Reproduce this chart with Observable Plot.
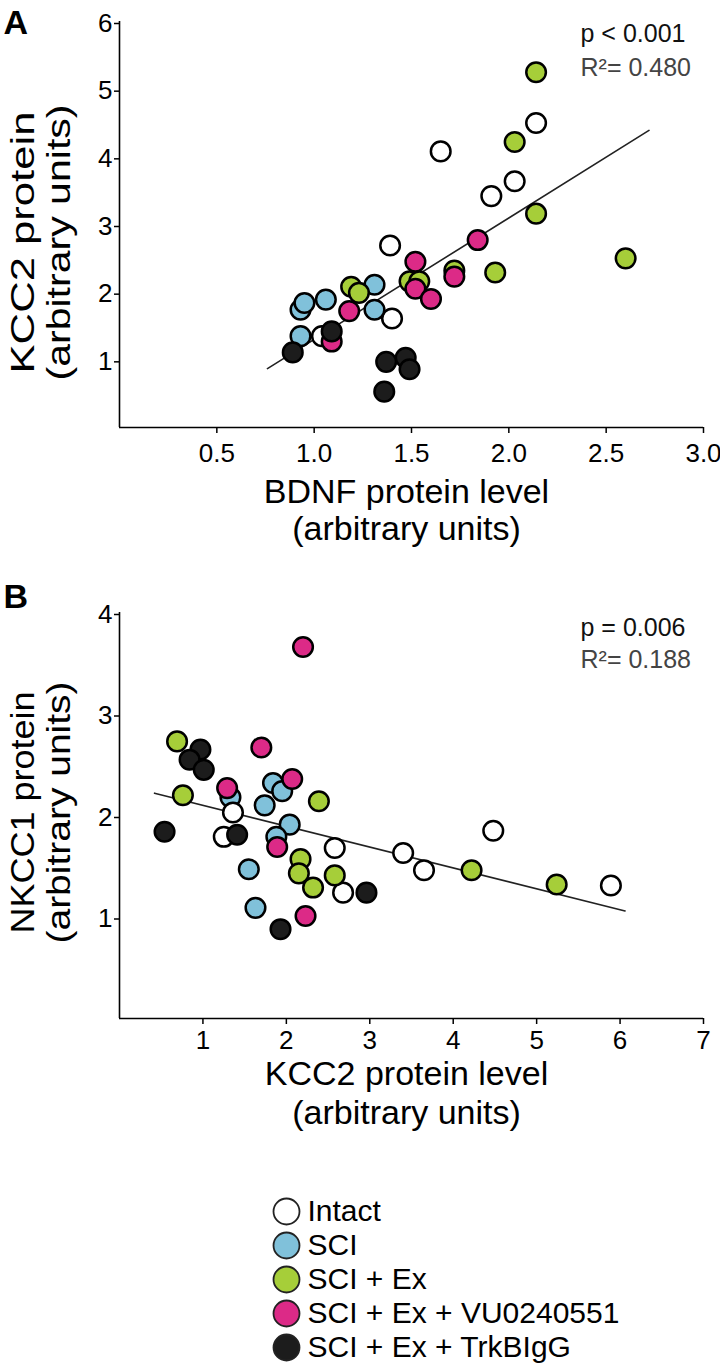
<!DOCTYPE html>
<html><head><meta charset="utf-8">
<script src="https://cdn.jsdelivr.net/npm/d3@7"></script>
<script src="https://cdn.jsdelivr.net/npm/@observablehq/plot@0.6"></script>
<style>
body{margin:0;background:#fff;}
#wrap{width:720px;height:1371px;position:relative;overflow:hidden;background:#fff;}
.part{position:absolute;left:0;}
.part svg{display:block;}
</style></head><body><div id="wrap"><div class="part" id="pa" style="top:0"></div><div class="part" id="pb" style="top:560px"></div><div class="part" id="pl" style="top:1140px"></div></div>
<script>
const FONT = "'Liberation Sans', Arial, Helvetica, sans-serif";
const groups = ["Intact","SCI","SCI + Ex","SCI + Ex + VU0240551","SCI + Ex + TrkBIgG"];
const groupColors = ["#ffffff","#80c1da","#a6ce39","#dc2a87","#1c1c1c"];

// Panel A: BDNF protein level (x) vs KCC2 protein (y)
const A_intact = [[1.04,1.35],[1.39,2.69],[1.40,1.61],[1.65,4.08],[1.91,3.42],[2.03,3.64],[2.14,4.50]];
const A_sci    = [[0.93,1.35],[0.93,1.74],[0.95,1.84],[1.06,1.89],[1.31,2.11],[1.31,1.74]];
const A_ex     = [[1.19,2.08],[1.23,1.99],[1.49,2.16],[1.54,2.16],[1.72,2.32],[1.93,2.29],[2.14,3.16],[2.60,2.50],[2.03,4.22],[2.14,5.25]];
const A_vu     = [[1.09,1.27],[1.18,1.72],[1.52,2.45],[1.52,2.05],[1.60,1.90],[1.72,2.23],[1.84,2.77]];
const A_trk    = [[0.89,1.11],[1.09,1.42],[1.37,0.97],[1.47,1.03],[1.49,0.86],[1.36,0.53]];
const A_fit    = [[0.76,0.87],[2.72,4.39]];
const A_xTicks = [0.5,1.0,1.5,2.0,2.5,3.0];
const A_yTicks = [1,2,3,4,5,6];
const A_stats  = ["p < 0.001","R²= 0.480"];

// Panel B: KCC2 protein level (x) vs NKCC1 protein (y)
const B_intact = [[1.36,2.03],[1.25,1.79],[2.58,1.68],[3.40,1.63],[4.48,1.85],[3.65,1.46],[2.68,1.24],[5.89,1.31]];
const B_sci    = [[1.33,2.18],[1.84,2.32],[1.95,2.24],[1.74,2.10],[2.04,1.91],[1.88,1.79],[1.55,1.47],[1.63,1.09]];
const B_ex     = [[0.69,2.73],[0.76,2.20],[2.39,2.14],[2.17,1.57],[2.15,1.43],[2.58,1.41],[4.22,1.46],[2.32,1.29],[5.24,1.32]];
const B_vu     = [[2.20,3.66],[1.70,2.67],[1.29,2.27],[2.07,2.36],[1.89,1.69],[2.23,1.01]];
const B_trk    = [[0.97,2.65],[0.84,2.55],[1.01,2.45],[0.54,1.84],[1.41,1.81],[2.96,1.24],[1.93,0.88]];
const B_fit    = [[0.42,2.22],[6.06,1.06]];
const B_xTicks = [1,2,3,4,5,6,7];
const B_yTicks = [1,2,3,4];
const B_stats  = ["p = 0.006","R²= 0.188"];

function rows(sets){ return sets.flatMap(([g,pts]) => pts.map(([x,y]) => ({x,y,g}))); }

function panel(o){
  const svg = Plot.plot({
    width: 720, height: o.height,
    marginLeft: 119, marginRight: 17, marginTop: o.marginTop, marginBottom: o.marginBottom,
    style: {fontFamily: FONT, color: "#000", background: "#fff", overflow: "visible"},
    x: {domain: o.xDomain}, y: {domain: o.yDomain},
    color: {domain: groups, range: groupColors},
    marks: [
      Plot.axisX({ticks: o.xTicks, tickFormat: o.xFormat, tickSize: 6, tickPadding: o.xPad, fontSize: 26, strokeWidth: 1.5, label: null}),
      Plot.axisY({ticks: o.yTicks, tickFormat: d => String(d), tickSize: 5, tickPadding: 2, fontSize: 26, dy: 2, strokeWidth: 1.5, label: null}),
      Plot.ruleX([o.xDomain[0]], {stroke: "#000", strokeWidth: 1.6}),
      Plot.ruleY([o.yDomain[0]], {stroke: "#000", strokeWidth: 1.6}),
      Plot.line(o.fit, {x: d => d[0], y: d => d[1], stroke: "#222", strokeWidth: 1.6}),
      Plot.dot(o.data, {x: "x", y: "y", fill: "g", stroke: "#000", strokeWidth: 2.5, r: 9.8}),
      Plot.text([o.letter], {frameAnchor: "top-left", dx: -116, dy: o.letterDy, textAnchor: "start", lineAnchor: "bottom", fontSize: 34, fontWeight: "bold"}),
      Plot.text([o.stats[0]], {frameAnchor: "top-right", dx: -123, dy: o.statDy[0], textAnchor: "start", lineAnchor: "bottom", fontSize: 25, fill: "#111"}),
      Plot.text([o.stats[1]], {frameAnchor: "top-right", dx: -123, dy: o.statDy[1], textAnchor: "start", lineAnchor: "bottom", fontSize: 25, fill: "#444"}),
      Plot.text([o.yTitle[0]], {frameAnchor: "left", dx: -86, dy: o.yTitleDy, rotate: -90, textAnchor: "middle", lineAnchor: "bottom", fontSize: 34}),
      Plot.text([o.yTitle[1]], {frameAnchor: "left", dx: -50, dy: o.yTitleDy, rotate: -90, textAnchor: "middle", lineAnchor: "bottom", fontSize: 34}),
      Plot.text([o.xTitle[0]], {frameAnchor: "bottom", dx: -5, dy: o.xTitleDy[0], textAnchor: "middle", lineAnchor: "bottom", fontSize: 34}),
      Plot.text([o.xTitle[1]], {frameAnchor: "bottom", dx: -5, dy: o.xTitleDy[1], textAnchor: "middle", lineAnchor: "bottom", fontSize: 34})
    ]
  });
  // the rotated titles in the reference run longer than their natural width
  const rotated = Array.from(svg.querySelectorAll("text")).filter(t => (t.getAttribute("transform") || "").includes("rotate"));
  rotated.forEach((t, i) => {
    const len = o.yTitleLen[i];
    if (len) { t.setAttribute("textLength", len); t.setAttribute("lengthAdjust", "spacingAndGlyphs"); }
  });
  return svg;
}

const dataA = rows([["Intact",A_intact],["SCI",A_sci],["SCI + Ex",A_ex],["SCI + Ex + VU0240551",A_vu],["SCI + Ex + TrkBIgG",A_trk]]);
const dataB = rows([["SCI",B_sci],["Intact",B_intact],["SCI + Ex",B_ex],["SCI + Ex + VU0240551",B_vu],["SCI + Ex + TrkBIgG",B_trk]]);

document.getElementById("pa").append(panel({
  height: 560, marginTop: 21, marginBottom: 133, xPad: 10,
  xDomain: [0,3], yDomain: [0,6], xTicks: A_xTicks, yTicks: A_yTicks, xFormat: d3.format(".1f"),
  data: dataA, fit: A_fit, letter: "A", letterDy: 12, stats: A_stats, statDy: [20, 54],
  yTitle: ["KCC2 protein","(arbitrary units)"], yTitleDy: 18, yTitleLen: [262, 276],
  xTitle: ["BDNF protein level","(arbitrary units)"], xTitleDy: [75, 112]
}));

document.getElementById("pb").append(panel({
  height: 580, marginTop: 52, marginBottom: 122, xPad: 6,
  xDomain: [0,7], yDomain: [0,4], xTicks: B_xTicks, yTicks: B_yTicks, xFormat: d => String(d),
  data: dataB, fit: B_fit, letter: "B", letterDy: -5, stats: B_stats, statDy: [23, 55],
  yTitle: ["NKCC1 protein","(arbitrary units)"], yTitleDy: -3, yTitleLen: [242, 262],
  xTitle: ["KCC2 protein level","(arbitrary units)"], xTitleDy: [66, 105]
}));

document.getElementById("pl").append(Plot.plot({
  width: 720, height: 231, marginLeft: 286, marginRight: 0, marginTop: 0, marginBottom: 0,
  style: {fontFamily: FONT, color: "#000", background: "#fff", overflow: "visible"},
  x: {axis: null}, y: {type: "point", domain: groups, range: [70, 208], padding: 0, axis: null},
  color: {domain: groups, range: groupColors},
  marks: [
    Plot.dot(groups, {y: d => d, fill: d => d, frameAnchor: "left", r: 13, stroke: "#222", strokeWidth: 1.8}),
    Plot.text(groups, {y: d => d, text: d => d, frameAnchor: "left", dx: 21, textAnchor: "start", lineAnchor: "middle", fontSize: 30})
  ]
}));
</script></body></html>
